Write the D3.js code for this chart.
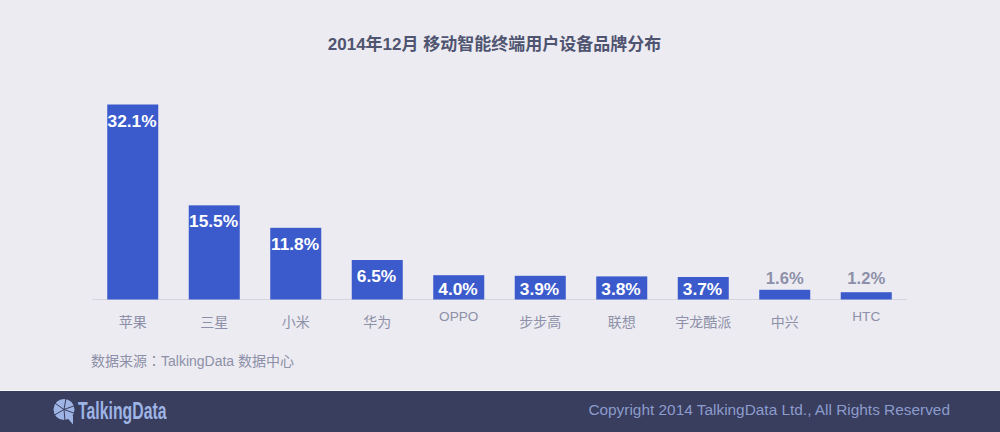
<!DOCTYPE html>
<html><head><meta charset="utf-8">
<script src="https://cdn.jsdelivr.net/npm/d3@7"></script>
<style>html,body{margin:0;padding:0;background:#ecebf1}svg{display:block}</style>
</head><body><svg id="c" width="1000" height="432"></svg>
<script>
const categories=["苹果","三星","小米","华为","OPPO","步步高","联想","宇龙酷派","中兴","HTC"];
const values=[32.1,15.5,11.8,6.5,4.0,3.9,3.8,3.7,1.6,1.2];
const titleText="2014年12月 移动智能终端用户设备品牌分布";
const sourceParts=["数据来源","：","TalkingData 数据中心"];
const copyrightText="Copyright 2014 TalkingData Ltd., All Rights Reserved";
const latin='"Liberation Sans",Arial,"Noto Sans CJK SC",sans-serif';
const svg=d3.select("#c");
svg.append("rect").attr("width",1000).attr("height",432).attr("fill","#ecebf1");
const x=d3.scaleBand().domain(categories).range([92,907]).paddingInner(0.374).paddingOuter(0.187);
const y=d3.scaleLinear().domain([0,32.1]).range([299.5,104.5]);
svg.append("text").attr("x",494.5).attr("y",49.5).attr("text-anchor","middle")
  .attr("font-family",latin).attr("font-size",17).attr("font-weight",700).attr("fill","#4f5470").text(titleText);
svg.append("line").attr("x1",92).attr("x2",907).attr("y1",299.5).attr("y2",299.5).attr("stroke","#d6d5de").attr("stroke-width",1);
svg.selectAll("rect.bar").data(values).join("rect").attr("class","bar")
  .attr("x",(d,i)=>x(categories[i])).attr("width",x.bandwidth())
  .attr("y",d=>y(d)).attr("height",d=>y(0)-y(d)).attr("fill","#3b5bcd");
svg.selectAll("text.val").data(values).join("text").attr("class","val")
  .attr("x",(d,i)=>x(categories[i])+x.bandwidth()/2-(d<3?0:0.7))
  .attr("y",d=>d<3?284:Math.min(y(d)+22,295))
  .attr("text-anchor","middle").attr("font-family",latin).attr("font-size",d=>d<3?16.6:17.3).attr("font-weight",700)
  .attr("fill",d=>d<3?"#8d90a8":"#ffffff").text(d=>d.toFixed(1)+"%");
svg.selectAll("text.cat").data(categories).join("text").attr("class","cat")
  .attr("x",d=>x(d)+x.bandwidth()/2).attr("y",d=>/^[A-Z]/.test(d)?320.5:327)
  .attr("text-anchor","middle").attr("font-family",latin).attr("font-size",d=>/^[A-Z]/.test(d)?13.6:14)
  .attr("fill","#8d90a8").text(d=>d);
const source=svg.append("text").attr("x",91).attr("y",366).attr("font-family",latin).attr("font-size",14).attr("fill","#8d90a8");
source.selectAll("tspan").data(sourceParts).join("tspan")
  .attr("font-family",(d,i)=>i===1?'"Noto Sans CJK TC",sans-serif':latin).text(d=>d);
svg.append("rect").attr("y",391).attr("width",1000).attr("height",41).attr("fill","#393d5e");
svg.append("line").attr("x1",0).attr("x2",1000).attr("y1",390.5).attr("y2",390.5).attr("stroke","#f7f7fa");
svg.append("text").attr("x",950).attr("y",415).attr("text-anchor","end").attr("font-family",latin).attr("font-size",15.4).attr("fill","#8c9ccc").text(copyrightText);
const logo=svg.append("g").attr("transform","translate(64,409.5)");
logo.append("circle").attr("r",10.5).attr("fill","#9db4e4");
logo.append("path").attr("d","M3,8 L9,15 L9,6Z").attr("fill","#9db4e4");
[20,85,150,215,280,340].forEach(a=>logo.append("line").attr("x2",11*Math.cos(a*Math.PI/180)).attr("y2",11*Math.sin(a*Math.PI/180)).attr("stroke","#393d5e").attr("stroke-width",1));
svg.append("text").attr("x",78).attr("y",419).attr("font-family",latin).attr("font-size",23).attr("font-weight",700).attr("fill","#9db4e4").attr("textLength",88.5).attr("lengthAdjust","spacingAndGlyphs").text("TalkingData");
</script></body></html>
